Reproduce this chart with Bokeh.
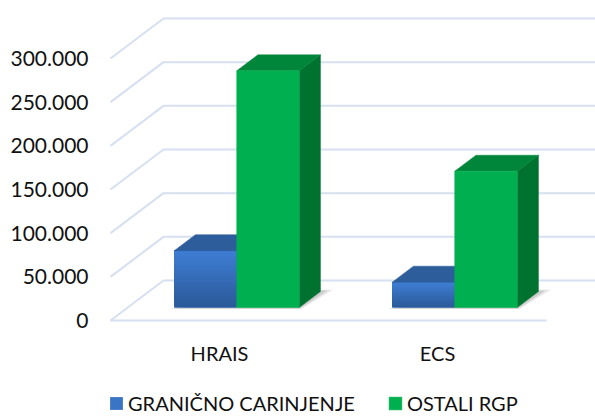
from bokeh.plotting import figure
from bokeh.models import Range1d, FixedTicker, Legend, LegendItem
from bokeh.core.properties import value
from bokeh.embed import file_html
from bokeh.resources import INLINE
import numpy as np

# ---------------- data ----------------
categories = ["HRAIS", "ECS"]
series_names = ["GRANIČNO CARINJENJE", "OSTALI RGP"]
granicno_carinjenje = [65000, 29000]
ostali_rgp = [271000, 156000]
y_ticks = [0, 50000, 100000, 150000, 200000, 250000, 300000]
y_tick_labels = ["0", "50.000", "100.000", "150.000", "200.000", "250.000", "300.000"]

# ---------------- style / geometry ----------------
FONT = "Lato"
GRID = "#d6e0f0"
BLUE_TOP = "#2e5d9c"
BLUE_GRAD_TOP = np.array([0x3e, 0x7e, 0xd4])
BLUE_GRAD_BOT = np.array([0x2b, 0x59, 0x98])
GREEN_FRONT = "#00b050"
GREEN_TOP = "#00863b"
GREEN_SIDE = "#00722f"
BLUE_LEGEND = "#3a74c4"

PX_PER_X = 218.0                 # px per category unit
PX_PER_V = 262.0 / 300000.0      # px per value unit
DX = 53.0 / PX_PER_X             # full floor depth, x units
DY = 40.0 / PX_PER_V             # full floor depth, value units
F1, F2 = 0.325, 0.725            # bar depth span
BAR_W = 62.5 / PX_PER_X

W, H = 595, 417
LEFT = 98
x0_range = -12.0 / PX_PER_X
x1_range = x0_range + (W - LEFT) / PX_PER_X
y_top = 320.0 / PX_PER_V
y_bot = y_top - H / PX_PER_V

p = figure(width=W, height=H, output_backend="svg", toolbar_location=None,
           x_range=Range1d(x0_range, x1_range), y_range=Range1d(y_bot, y_top),
           x_axis_location=None, min_border_left=LEFT, min_border_right=0,
           min_border_top=0, min_border_bottom=0)
p.outline_line_color = None
p.xgrid.visible = False
p.ygrid.visible = False
p.background_fill_color = "white"

yax = p.yaxis[0]
yax.ticker = FixedTicker(ticks=y_ticks)
yax.major_label_overrides = {t: l for t, l in zip(y_ticks, y_tick_labels)}
yax.axis_line_color = None
yax.major_tick_line_color = None
yax.minor_tick_line_color = None
yax.major_tick_out = 0
yax.major_label_standoff = 10
yax.major_label_text_font = FONT
yax.major_label_text_font_size = "21px"
yax.major_label_text_color = "#111111"


def proj(x, v, f):
    return x + f * DX, v + f * DY


# gridlines: side wall + back wall
xs, ys = [], []
n_cat = len(categories)
for t in y_ticks:
    a = proj(0, t, 0)
    b = proj(0, t, 1)
    c = proj(x1_range + 1, t, 1)
    xs.append([a[0], b[0], c[0]])
    ys.append([a[1], b[1], c[1]])
# floor front edge
a = proj(0, 0, 0)
b = proj(n_cat, 0, 0)
xs.append([a[0], b[0]])
ys.append([a[1], b[1]])
p.multi_line(xs, ys, line_color=GRID, line_width=2)

# soft shadows on the floor
for spread, alpha in [(0.045, 0.25), (0.025, 0.35)]:
    sh_x, sh_y = [], []
    for i in range(n_cat):
        cx = i + 0.5
        gx0 = cx - BAR_W
        gx1 = cx + BAR_W
        pts = [proj(gx0 - 0.01, 0, F1 - 0.03), proj(gx1 + spread * 0.4, 0, F1 - 0.03),
               proj(gx1 + spread, 0, F2 + spread), proj(gx1, 0, F2 + spread)]
        sh_x.append([q[0] for q in pts])
        sh_y.append([q[1] for q in pts])
    p.patches(sh_x, sh_y, fill_color="#9a9a9a", fill_alpha=alpha, line_color=None)

# blue front base (also used as legend swatch)
base_x, base_y = [], []
for i in range(n_cat):
    cx = i + 0.5
    v = granicno_carinjenje[i]
    pts = [proj(cx - BAR_W, 0, F1), proj(cx, 0, F1), proj(cx, v, F1), proj(cx - BAR_W, v, F1)]
    base_x.append([q[0] for q in pts])
    base_y.append([q[1] for q in pts])
r_blue = p.patches(base_x, base_y, fill_color=BLUE_LEGEND, line_color=None)

N_BANDS = 20
green_renderer = None
for i in range(n_cat):
    cx = i + 0.5
    # blue bar (left) – gradient front made of overlapping bands
    v = granicno_carinjenje[i]
    bx0, bx1 = cx - BAR_W, cx
    bxs, bys, bcs = [], [], []
    edges = np.linspace(0, v, N_BANDS + 1)
    for k in range(N_BANDS):
        lo = edges[k]
        pts = [proj(bx0, lo, F1), proj(bx1, lo, F1), proj(bx1, v, F1), proj(bx0, v, F1)]
        bxs.append([q[0] for q in pts])
        bys.append([q[1] for q in pts])
        tfrac = (k + 0.5) / N_BANDS
        col = BLUE_GRAD_BOT + (BLUE_GRAD_TOP - BLUE_GRAD_BOT) * tfrac
        bcs.append("#%02x%02x%02x" % tuple(int(round(c)) for c in col))
    p.patches(bxs, bys, fill_color=bcs, line_color=None)
    top = [proj(bx0, v, F1), proj(bx1, v, F1), proj(bx1, v, F2), proj(bx0, v, F2)]
    p.patch([q[0] for q in top], [q[1] for q in top], fill_color=BLUE_TOP, line_color=BLUE_TOP, line_width=0.5)

    # green bar (right)
    v = ostali_rgp[i]
    gx0, gx1 = cx, cx + BAR_W
    side = [proj(gx1, 0, F1), proj(gx1, 0, F2), proj(gx1, v, F2), proj(gx1, v, F1)]
    p.patch([q[0] for q in side], [q[1] for q in side], fill_color=GREEN_SIDE, line_color=GREEN_SIDE, line_width=0.5)
    top = [proj(gx0, v, F1), proj(gx1, v, F1), proj(gx1, v, F2), proj(gx0, v, F2)]
    p.patch([q[0] for q in top], [q[1] for q in top], fill_color=GREEN_TOP, line_color=GREEN_TOP, line_width=0.5)
    front = [proj(gx0, 0, F1), proj(gx1, 0, F1), proj(gx1, v, F1), proj(gx0, v, F1)]
    rg = p.patch([q[0] for q in front], [q[1] for q in front], fill_color=GREEN_FRONT, line_color=GREEN_FRONT, line_width=0.5)
    if green_renderer is None:
        green_renderer = rg

# category labels (front plane)
cat_x = [i + 0.5 for i in range(n_cat)]
cat_y = [-32.0 / PX_PER_V] * n_cat
p.text(cat_x, cat_y, text=categories, text_font=value(FONT), text_font_size="20px",
       text_align="center", text_baseline="middle", text_color="#111111")

# legend
legend = Legend(items=[LegendItem(label=series_names[0], renderers=[r_blue]),
                       LegendItem(label=series_names[1], renderers=[green_renderer])],
                orientation="horizontal", location=(10, 2))
legend.padding = 0
legend.margin = 0
legend.spacing = 32
legend.label_standoff = 4
legend.glyph_width = 16
legend.glyph_height = 16
legend.border_line_color = None
legend.background_fill_alpha = 0
legend.label_text_font = FONT
legend.label_text_font_size = "20px"
legend.label_text_color = "#111111"
p.add_layout(legend, "center")

open("out.html", "w").write(file_html(p, INLINE))
